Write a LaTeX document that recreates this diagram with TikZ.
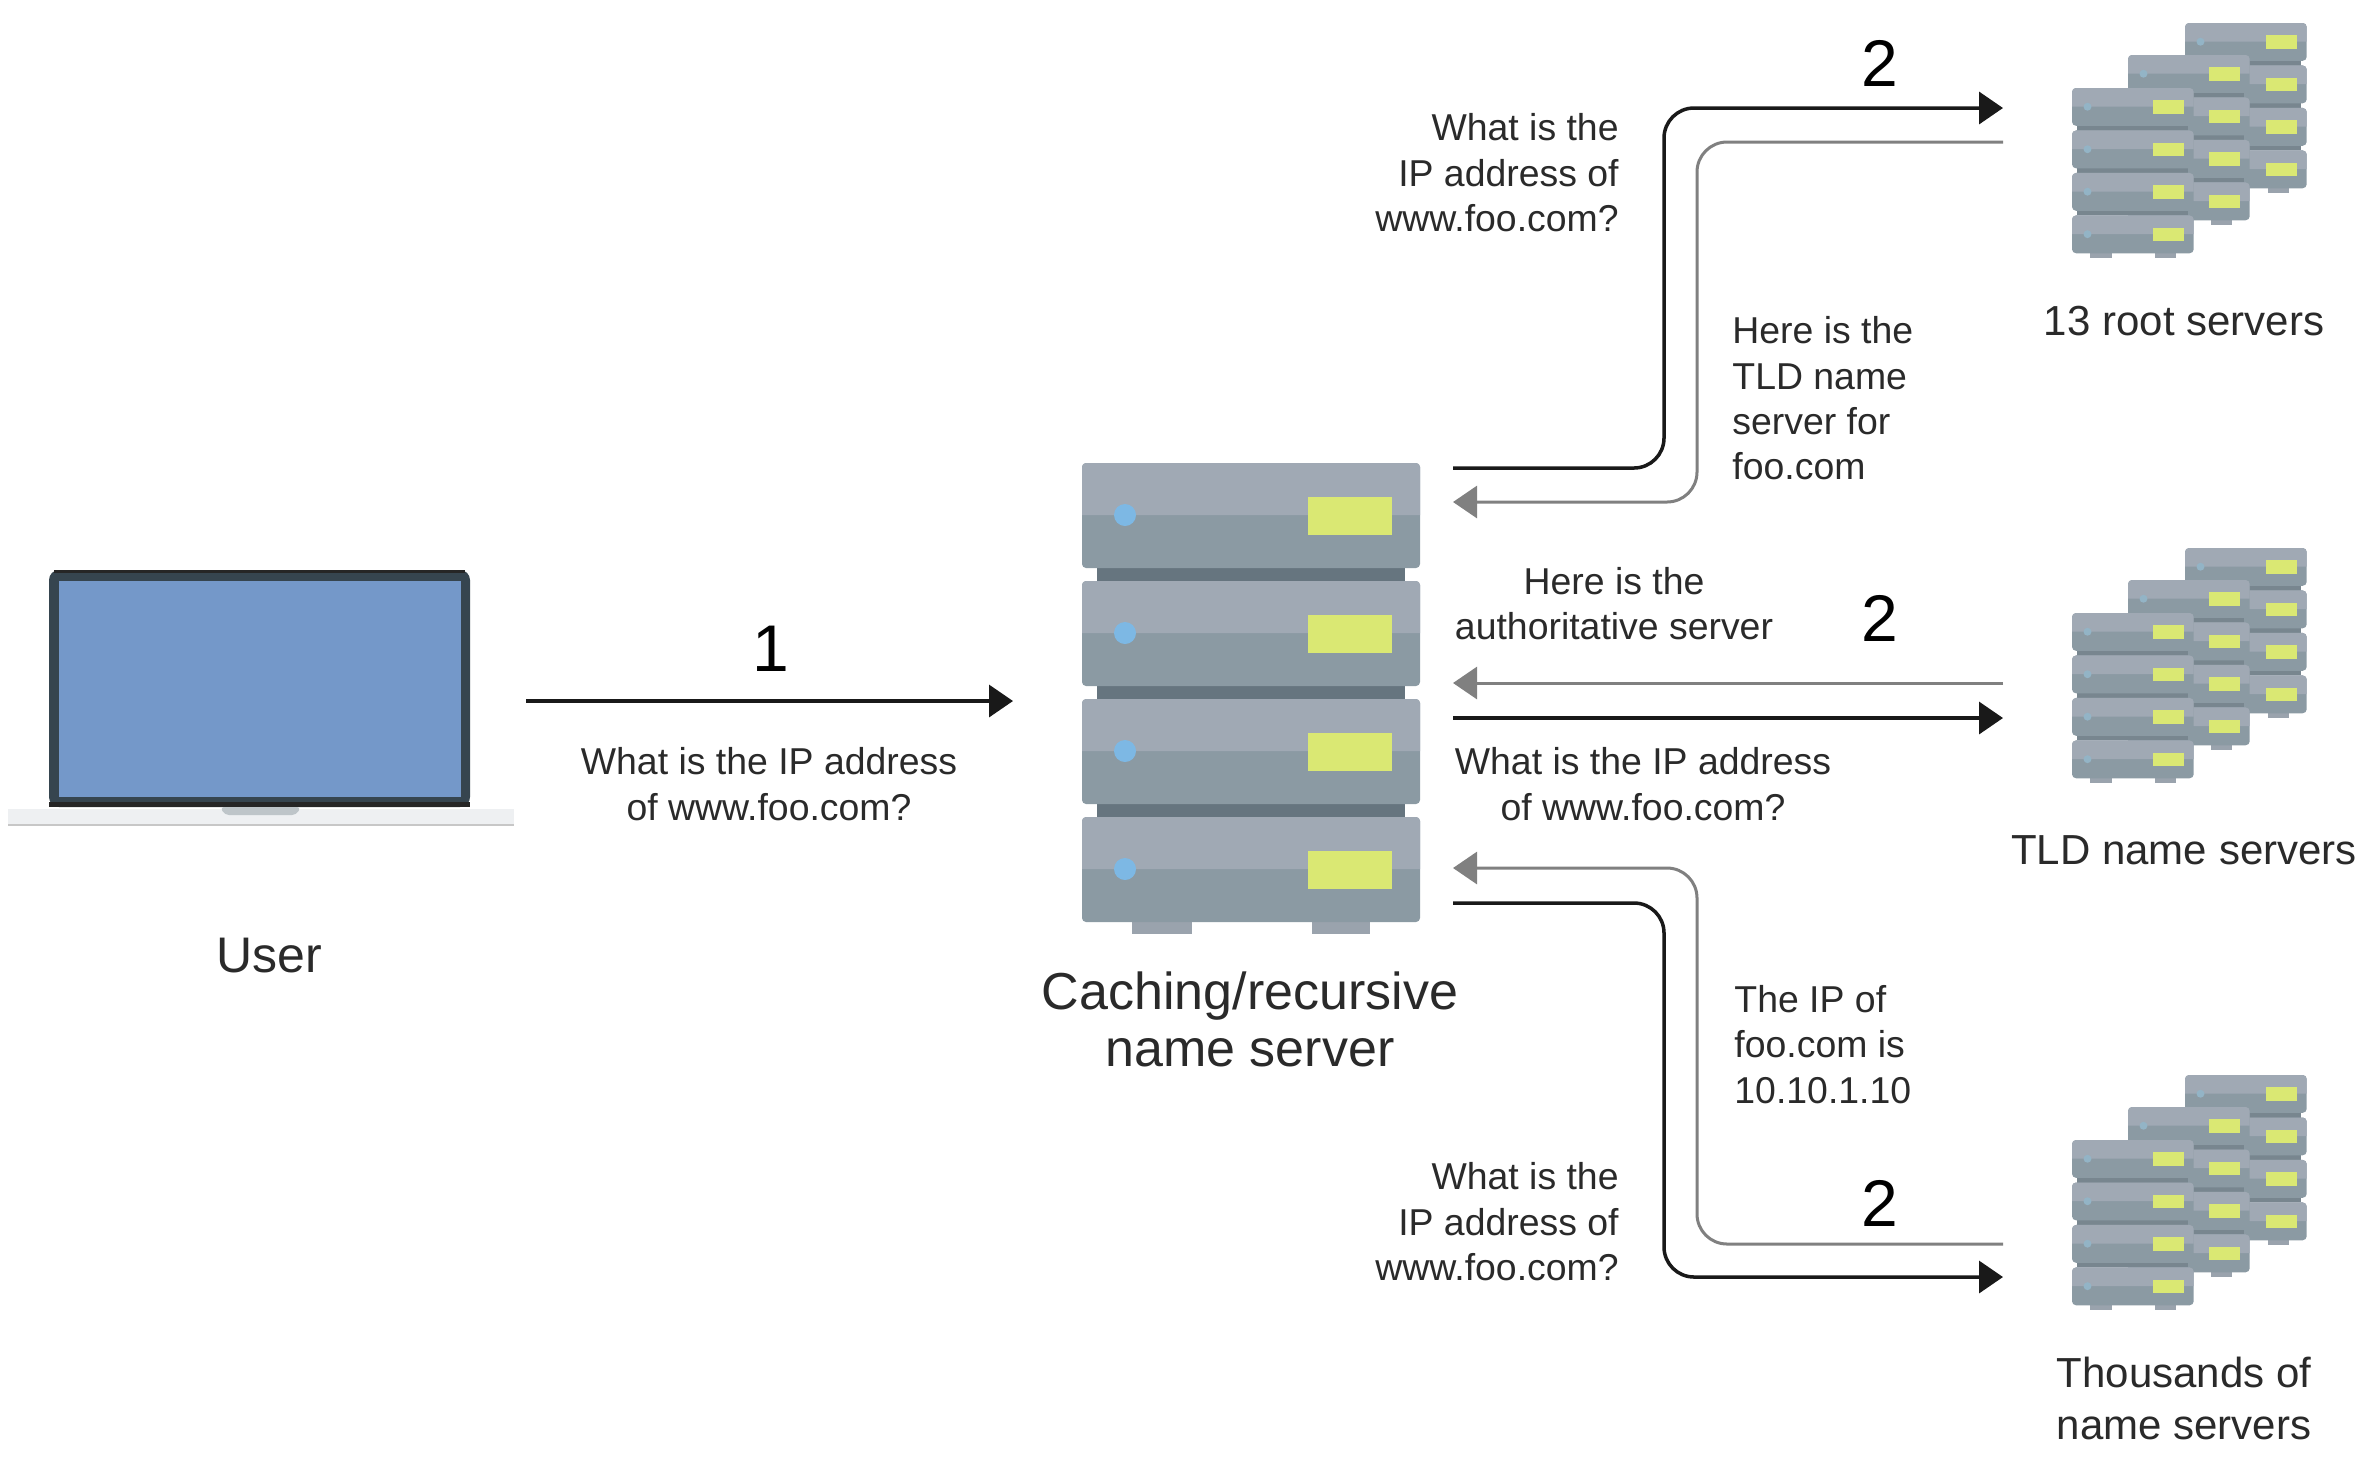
\documentclass[tikz,border=0pt]{standalone}
\usepackage{fontspec}
\setmainfont{Liberation Sans}
\usetikzlibrary{arrows.meta}
\definecolor{srvup}{HTML}{A0A9B4}
\definecolor{srvlo}{HTML}{8B9AA3}
\definecolor{srvgap}{HTML}{66757F}
\definecolor{srvgapsoft}{HTML}{78868F}
\definecolor{srvfoot}{HTML}{9AA3AD}
\definecolor{srvled}{HTML}{7DB8E4}
\definecolor{srvledsoft}{HTML}{93B4C6}
\definecolor{srvlight}{HTML}{DAE873}
\definecolor{ink}{HTML}{2A2A2A}
\definecolor{lapblue}{HTML}{7498C9}
\definecolor{lapframe}{HTML}{36454F}
\definecolor{lapbase}{HTML}{EEF0F2}
\definecolor{lapnotch}{HTML}{BEC5C9}
\tikzset{
  blackline/.style={draw=black!90,line width=1.75pt,rounded corners=15pt,-{Triangle[length=12pt,width=16pt]}},
  greyline/.style={draw=black!50,line width=1.5pt,rounded corners=15pt,-{Triangle[length=12pt,width=16pt]}},
  small/.style={font=\fontsize{18.7}{22.7}\selectfont,text=ink,inner sep=0pt},
  mid/.style={font=\fontsize{21}{26}\selectfont,text=ink,inner sep=0pt,align=center},
  big/.style={font=\fontsize{26}{28.5}\selectfont,text=ink,inner sep=0pt,align=center},
  usertext/.style={font=\fontsize{25}{28.5}\selectfont,text=ink,inner sep=0pt,align=center},
  num/.style={font=\fontsize{33}{36}\selectfont,text=black,inner sep=0pt},
}
\newcommand{\srvunit}[2]{%
  \begin{scope}[shift={(0,#1)}]
    \fill[srvlo,rounded corners=2pt] (0,0) rectangle (338,105);
    \fill[srvup] (0,52) [rounded corners=2pt] -- (0,0) -- (338,0) [sharp corners] -- (338,52) -- cycle;
    \fill[#2] (43,52) circle (11);
    \fill[srvlight] (226,34) rectangle (310,72);
  \end{scope}}
\newcommand{\srvstack}[5]{%
  \begin{scope}[shift={(#1,#2)},scale=#3]
    \fill[srvfoot] (50,459) rectangle (110,471);
    \fill[srvfoot] (230,459) rectangle (288,471);
    \fill[#5] (15,105) rectangle (323,119);
    \fill[#5] (15,223) rectangle (323,237);
    \fill[#5] (15,340) rectangle (323,354);
    \srvunit{0}{#4}\srvunit{118}{#4}\srvunit{236}{#4}\srvunit{354}{#4}
  \end{scope}}
\newcommand{\srvgroup}[1]{%
  \srvstack{2185}{#1}{0.36}{srvledsoft}{srvgapsoft}
  \srvstack{2128}{#1+32}{0.36}{srvledsoft}{srvgapsoft}
  \srvstack{2072}{#1+65}{0.36}{srvledsoft}{srvgapsoft}}
\begin{document}
\begin{tikzpicture}[x=0.5pt,y=-0.5pt]
\useasboundingbox (0,0) rectangle (2370,1458);
\fill[white] (0,0) rectangle (2370,1458);

% laptop
\fill[lapbase] (8,809) rectangle (514,826);
\fill[black!22] (8,824) rectangle (514,826);
\fill[lapframe,rounded corners=5pt] (49,807) -- (49,570) -- (470,570) -- (470,807) -- cycle;
\fill[black!85] (49,802) rectangle (470,807);
\fill[black!85] (54,570) rectangle (465,573);
\fill[lapblue] (59,581) rectangle (461,797);
\fill[lapnotch,rounded corners=2pt] (220,807) -- (225,815) -- (296,815) -- (301,807) -- cycle;

% main server
\srvstack{1082}{463}{1}{srvled}{srvgap}

% server groups
\srvgroup{23}
\srvgroup{548}
\srvgroup{1075}

% anchors
\coordinate (userOut) at (526,701);
\coordinate (mainIn) at (1013,701);
\coordinate (rootOutA) at (1453,468);
\coordinate (rootBendA) at (1664,300);
\coordinate (rootInA) at (2003,108);
\coordinate (rootOutB) at (2003,142);
\coordinate (rootBendB) at (1697,300);
\coordinate (rootInB) at (1453,502);
\coordinate (tldOutB) at (2003,683);
\coordinate (tldInB) at (1453,683);
\coordinate (tldOutA) at (1453,718);
\coordinate (tldInA) at (2003,718);
\coordinate (authOutB) at (2003,1244);
\coordinate (authBendB) at (1697,1050);
\coordinate (authInB) at (1453,868);
\coordinate (authOutA) at (1453,903);
\coordinate (authBendA) at (1664,1100);
\coordinate (authInA) at (2003,1277);

% connectors
\draw[blackline] (userOut) -- (mainIn);
\draw[blackline] (rootOutA) -| (rootBendA) |- (rootInA);
\draw[greyline] (rootOutB) -| (rootBendB) |- (rootInB);
\draw[greyline] (tldOutB) -- (tldInB);
\draw[blackline] (tldOutA) -- (tldInA);
\draw[greyline] (authOutB) -| (authBendB) |- (authInB);
\draw[blackline] (authOutA) -| (authBendA) |- (authInA);

% numbers
\node[num] (n1) at (771,649) {1};
\node[num] (n2a) at (1880,63) {2};
\node[num] (n2b) at (1880,618) {2};
\node[num] (n2c) at (1880,1203) {2};

% labels
\node[small,align=center] (qUser) at (769,784) {What is the IP address\\of www.foo.com?};
\node[small,align=right,anchor=east] (qRoot) at (1619,173) {What is the\\IP address of\\www.foo.com?};
\node[small,align=left,anchor=west] (aRoot) at (1732,398.5) {Here is the\\TLD name\\server for\\foo.com};
\node[small,align=center] (aTld) at (1614,603.5) {Here is the\\authoritative server};
\node[small,align=center] (qTld) at (1643,784) {What is the IP address\\of www.foo.com?};
\node[small,align=left,anchor=west] (aAuth) at (1734,1044.5) {The IP of\\foo.com is\\10.10.1.10};
\node[small,align=right,anchor=east] (qAuth) at (1619,1222) {What is the\\IP address of\\www.foo.com?};
\node[mid] (lRoot) at (2184,321) {13 root servers};
\node[mid] (lTld) at (2184,850) {TLD name servers};
\node[mid] (lAuth) at (2184,1398.5) {Thousands of\\name servers};
\node[big] (lMain) at (1250,1019) {Caching/recursive\\name server};
\node[usertext] (lUser) at (269,956) {User};
\end{tikzpicture}
\end{document}
